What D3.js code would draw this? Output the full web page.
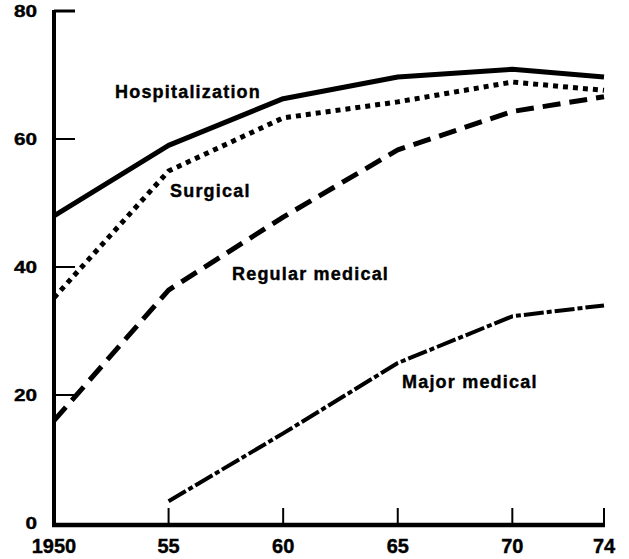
<!DOCTYPE html>
<html>
<head>
<meta charset="utf-8">
<script src="https://cdn.jsdelivr.net/npm/d3@7"></script>
<style>
  body { margin: 0; background: #fff; }
  text { font-family: "Liberation Sans", Arial, sans-serif; font-weight: bold; fill: #000; stroke: #000; stroke-width: 0.4px; }
</style>
</head>
<body>
<script>
var years = [1950, 1955, 1960, 1965, 1970, 1974];
var yearLabels = ['1950', '55', '60', '65', '70', '74'];
var yTicks = [0, 20, 40, 60, 80];

var hospitalization = [48, 59, 66.3, 69.7, 70.9, 69.7];
var surgical = [35.2, 55, 63.3, 65.8, 68.9, 67.6];
var regularMedical = [16, 36.4, 47.8, 58.3, 64.3, 66.6];
var majorMedical = [null, 3.4, 14, 25, 32.3, 34];

var seriesNames = ['Hospitalization', 'Surgical', 'Regular medical', 'Major medical'];

var width = 629, height = 559;

var x = d3.scaleLinear().domain([1950, 1974]).range([54, 604]);
var y = d3.scaleLinear().domain([0, 80]).range([523, 11]);

var svg = d3.select('body')
  .append('svg')
  .attr('width', width)
  .attr('height', height);

svg.append('rect')
  .attr('width', width)
  .attr('height', height)
  .attr('fill', '#fff');

// axes lines
svg.append('line')
  .attr('x1', x(1950)).attr('x2', x(1950))
  .attr('y1', y(80) - 1).attr('y2', y(0) + 4)
  .attr('stroke', '#000').attr('stroke-width', 4);

svg.append('line')
  .attr('x1', x(1950) - 2).attr('x2', x(1974) + 1)
  .attr('y1', y(0) + 2).attr('y2', y(0) + 2)
  .attr('stroke', '#000').attr('stroke-width', 4.5);

// y ticks (inside)
svg.selectAll('.ytick')
  .data(yTicks.filter(function(d) { return d > 0; }))
  .enter()
  .append('line')
  .attr('x1', x(1950))
  .attr('x2', x(1950) + 21)
  .attr('y1', function(d) { return y(d); })
  .attr('y2', function(d) { return y(d); })
  .attr('stroke', '#000')
  .attr('stroke-width', function(d) { return d === 80 ? 3 : 2; });

svg.selectAll('.ylab')
  .data(yTicks)
  .enter()
  .append('text')
  .attr('transform', function(d) {
    return 'translate(37,' + (y(d) + 6) + ') scale(1.22,1)';
  })
  .attr('text-anchor', 'end')
  .style('font-size', '17px')
  .text(function(d) { return d; });

// x ticks (inside)
svg.selectAll('.xtick')
  .data(years.slice(1))
  .enter()
  .append('line')
  .attr('x1', function(d) { return x(d); })
  .attr('x2', function(d) { return x(d); })
  .attr('y1', y(0) + 2)
  .attr('y2', y(0) - 15)
  .attr('stroke', '#000')
  .attr('stroke-width', 2);

svg.selectAll('.xlab')
  .data(years)
  .enter()
  .append('text')
  .attr('x', function(d) { return x(d); })
  .attr('y', 553)
  .attr('text-anchor', 'middle')
  .style('font-size', '20px')
  .text(function(d, i) { return yearLabels[i]; });

// lines
var line = d3.line()
  .defined(function(d) { return d != null; })
  .x(function(d, i) { return x(years[i]); })
  .y(function(d) { return y(d); });

var series = [
  { values: hospitalization, dash: null, w: 5 },
  { values: surgical, dash: '5,5', w: 5 },
  { values: regularMedical, dash: '18,9', w: 5 },
  { values: majorMedical, dash: '20,3,5,3', w: 4 }
];

svg.selectAll('.series')
  .data(series)
  .enter()
  .append('path')
  .attr('d', function(d) { return line(d.values); })
  .attr('fill', 'none')
  .attr('stroke', '#000')
  .attr('stroke-width', function(d) { return d.w; })
  .attr('stroke-dasharray', function(d) { return d.dash; })
  .attr('stroke-linejoin', 'round');

// series labels
var labelPos = [[115, 98], [170, 197], [232, 280], [402, 388]];

svg.selectAll('.slab')
  .data(seriesNames)
  .enter()
  .append('text')
  .attr('x', function(d, i) { return labelPos[i][0]; })
  .attr('y', function(d, i) { return labelPos[i][1]; })
  .style('font-size', '18px')
  .style('letter-spacing', '1.2px')
  .text(function(d) { return d; });
</script>
</body>
</html>
